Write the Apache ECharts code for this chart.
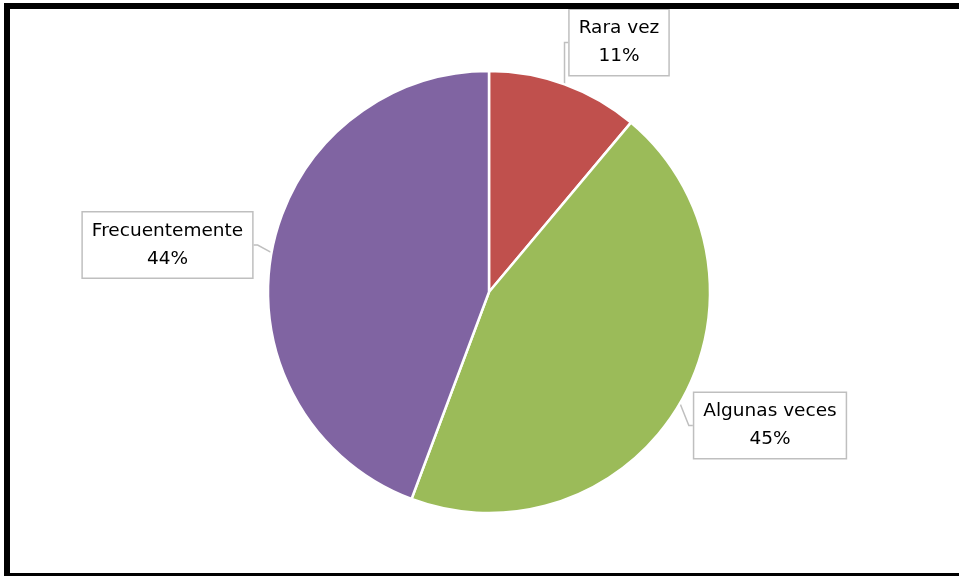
<!DOCTYPE html>
<html>
<head>
<meta charset="utf-8">
<script src="https://cdn.jsdelivr.net/npm/echarts@6/dist/echarts.min.js"></script>
<style>
html,body{margin:0;padding:0;background:#fff;}
#chart{width:959px;height:576px;}
</style>
</head>
<body>
<div id="chart"></div>
<script>
const categories = ['Rara vez', 'Algunas veces', 'Frecuentemente'];
const values = [11.1, 44.6, 44.3];
const colors = ['#C0504D', '#9BBB59', '#8064A2'];
const labelCenters = [[619, 42.5], [770, 425.5], [167.5, 245]];

const chart = echarts.init(document.getElementById('chart'));
chart.setOption({
  animation: false,
  graphic: [{
    type: 'rect',
    shape: { x: 7, y: 6, width: 960, height: 570 },
    style: { fill: 'none', stroke: '#000', lineWidth: 6 },
    z: 100
  }],
  series: [{
    type: 'pie',
    center: [489, 292],
    radius: 221,
    startAngle: 90,
    clockwise: true,
    data: categories.map((c, i) => ({ name: c, value: values[i], itemStyle: { color: colors[i] } })),
    itemStyle: { borderColor: '#fff', borderWidth: 2.5 },
    label: {
      show: true,
      position: 'outside',
      formatter: '{b}\n{d}%',
      fontFamily: 'DejaVu Sans',
      fontSize: 18.5,
      lineHeight: 28,
      color: '#000',
      backgroundColor: '#fff',
      borderColor: '#bfbfbf',
      borderWidth: 1.5,
      padding: [5, 9, 4, 9],
      align: 'center'
    },
    percentPrecision: 0,
    labelLine: { show: true, length: 4, length2: 4, lineStyle: { color: '#bfbfbf', width: 1.5 } },
    labelLayout: function (p) {
      const c = labelCenters[p.dataIndex];
      return { x: c[0], y: c[1], align: 'center', verticalAlign: 'middle' };
    }
  }]
});
</script>
</body>
</html>
